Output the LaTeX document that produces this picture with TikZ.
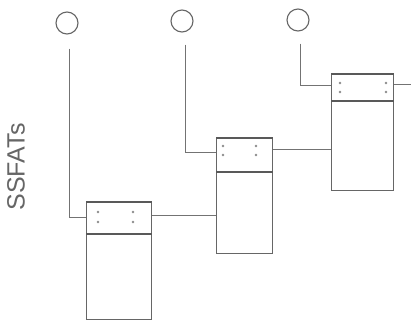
\documentclass[tikz,border=0pt]{standalone}
\usepackage{fontspec}
\newfontfamily\lblfont{Liberation Sans}
\usetikzlibrary{calc}
\begin{document}
\begin{tikzpicture}[x=1pt,y=-1pt,
  ln/.style={draw=black!55, line width=0.8pt},
  box/.style={draw=black!60, line width=1pt, rectangle, anchor=north west, inner sep=0pt},
  divider/.style={draw=black!65, line width=1.3pt},
  term/.style={draw=black!60, circle, line width=1.1pt, minimum size=22pt, inner sep=0pt},
  dotmark/.style={fill=black!45, circle, inner sep=0pt, minimum size=2.6pt}]
\useasboundingbox[fill=white] (0,0) rectangle (411,322);

% label
\node[rotate=90, text=black!60, font=\lblfont\fontsize{25}{25}\selectfont] (lbl) at (16,167) {SSFATs};

% terminals
\node[term] (c1) at (67,23) {};
\node[term] (c2) at (182,21) {};
\node[term] (c3) at (298,20) {};

% boxes
\node[box, minimum width=65pt, minimum height=117pt] (b1) at (86,202) {};
\node[box, minimum width=56pt, minimum height=115pt] (b2) at (216,138) {};
\node[box, minimum width=62pt, minimum height=116pt] (b3) at (331,74) {};

% dividers and top edges
\draw[divider] (b1.north west) -- (b1.north east);
\draw[divider] ($(b1.north west)+(0,32)$) -- ($(b1.north east)+(0,32)$);
\draw[divider] (b2.north west) -- (b2.north east);
\draw[divider] ($(b2.north west)+(0,34)$) -- ($(b2.north east)+(0,34)$);
\draw[divider] (b3.north west) -- (b3.north east);
\draw[divider] ($(b3.north west)+(0,27)$) -- ($(b3.north east)+(0,27)$);

% dots
\foreach \dx/\dy in {12/10,12/20,47/10,47/20}
  \node[dotmark] at ($(b1.north west)+(\dx,\dy)$) {};
\foreach \dx/\dy in {7/8,7/17,40/8,40/17}
  \node[dotmark] at ($(b2.north west)+(\dx,\dy)$) {};
\foreach \dx/\dy in {9/9,9/18,55/9,55/18}
  \node[dotmark] at ($(b3.north west)+(\dx,\dy)$) {};

% connectors
\draw[ln] ($(c1.south)+(2,14)$) |- ($(b1.north west)+(0,15)$);
\draw[ln] ($(c2.south)+(3,12)$) |- ($(b2.north west)+(0,14)$);
\draw[ln] ($(c3.south)+(2,12)$) |- ($(b3.north west)+(0,11)$);
\draw[ln] ($(b1.north east)+(0,13)$) -- ($(b2.north west)+(0,77)$);
\draw[ln] ($(b2.north east)+(0,11)$) -- ($(b3.north west)+(0,75)$);
\coordinate (outR) at (411,84);
\draw[ln] ($(b3.north east)+(0,10)$) -- (outR);
\end{tikzpicture}
\end{document}
